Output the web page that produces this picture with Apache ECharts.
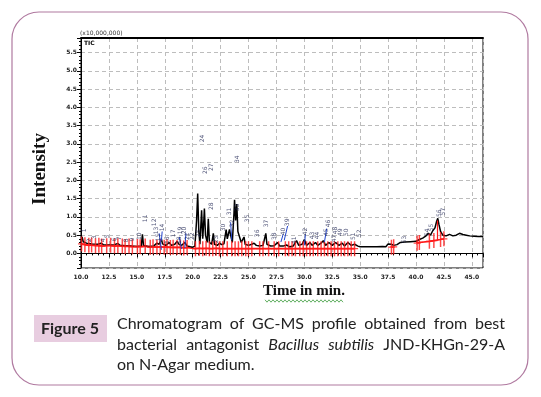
<!DOCTYPE html>
<html><head><meta charset="utf-8">
<script src="https://cdn.jsdelivr.net/npm/echarts@6/dist/echarts.min.js"></script>
<style>html,body{margin:0;padding:0;background:#fff}#c{width:541px;height:397px}</style>
</head><body><div id="c"></div>
<script>
// ---- TIC trace (time in min, intensity x10,000,000) ----
const ticTime = [10.0,10.1,10.2,10.5,11.0,11.5,11.8,12.0,12.5,13.0,13.3,13.5,14.0,14.5,15.0,15.4,15.5,15.6,16.0,16.5,16.8,17.0,17.2,17.3,17.6,17.9,18.1,18.4,18.6,18.8,19.0,19.3,19.5,19.8,20.0,20.2,20.35,20.45,20.55,20.65,20.8,20.9,21.0,21.05,21.15,21.3,21.4,21.5,21.7,21.85,21.95,22.2,22.4,22.6,22.8,23.0,23.1,23.3,23.4,23.55,23.7,23.75,23.85,23.95,24.05,24.2,24.35,24.6,24.7,25.0,25.3,25.5,25.7,26.0,26.3,26.55,26.65,27.0,27.3,27.6,27.8,28.1,28.4,28.7,29.0,29.3,29.5,29.8,30.0,30.2,30.5,30.7,31.0,31.2,31.5,31.7,31.9,32.2,32.5,32.8,33.1,33.4,33.6,33.9,34.2,34.5,34.8,35.0,35.5,36.0,36.5,37.0,37.3,37.5,37.8,38.0,38.3,38.6,39.0,39.5,40.0,40.3,40.6,40.9,41.1,41.3,41.5,41.7,41.85,41.95,42.05,42.2,42.4,42.7,43.0,43.3,43.6,43.9,44.2,44.5,44.8,45.2,45.6,46.0];
const ticValue = [0.30,0.45,0.32,0.28,0.26,0.25,0.28,0.24,0.23,0.24,0.27,0.22,0.21,0.20,0.19,0.20,0.52,0.22,0.19,0.20,0.28,0.25,0.40,0.26,0.22,0.30,0.22,0.25,0.33,0.24,0.22,0.30,0.20,0.18,0.17,0.20,0.90,1.64,0.60,0.25,1.18,0.40,0.90,1.23,0.50,0.30,0.95,0.30,0.25,0.55,0.25,0.22,0.28,0.24,0.26,0.65,0.40,0.66,0.50,0.30,1.10,1.47,0.90,1.35,0.60,0.45,0.30,0.45,0.25,0.22,0.25,0.28,0.22,0.20,0.22,0.55,0.25,0.20,0.21,0.30,0.20,0.20,0.23,0.18,0.20,0.35,0.22,0.25,0.38,0.22,0.30,0.22,0.30,0.22,0.28,0.35,0.22,0.30,0.22,0.30,0.22,0.28,0.20,0.30,0.22,0.25,0.20,0.18,0.18,0.18,0.18,0.19,0.18,0.26,0.25,0.22,0.24,0.30,0.31,0.32,0.33,0.38,0.42,0.48,0.55,0.50,0.62,0.70,0.88,0.96,0.80,0.60,0.50,0.48,0.52,0.48,0.50,0.55,0.52,0.50,0.48,0.47,0.46,0.46];

// ---- integration marks (red) ----
const cutTime = [10.05,10.35,10.7,10.95,11.3,11.6,11.85,12.3,12.65,13.0,13.3,13.7,13.95,14.3,14.6,15.05,15.3,15.75,16.2,16.45,16.8,17.1,17.45,17.7,18.0,18.25,18.6,18.9,19.2,19.5,20.25,20.6,20.9,21.2,21.5,21.8,22.1,22.4,22.7,23.1,23.5,23.8,24.1,24.4,24.75,25.0,25.3,26.0,26.3,26.8,27.3,27.7,28.3,28.6,28.9,29.2,29.6,29.9,30.2,30.5,30.8,31.2,31.5,31.8,32.1,32.4,32.7,33.0,33.3,33.6,33.9,34.2,34.5,37.8,38.0,40.1,40.3,41.2,41.6,42.2,42.5];
const cutValue = [0.26,0.24,0.22,0.23,0.21,0.22,0.20,0.21,0.22,0.20,0.21,0.20,0.19,0.20,0.18,0.19,0.18,0.20,0.17,0.18,0.17,0.18,0.17,0.18,0.16,0.17,0.16,0.17,0.15,0.16,0.13,0.14,0.13,0.14,0.13,0.13,0.14,0.13,0.13,0.13,0.13,0.13,0.13,0.13,0.13,0.13,0.13,0.13,0.13,0.13,0.13,0.13,0.13,0.13,0.13,0.13,0.13,0.13,0.13,0.13,0.13,0.13,0.13,0.13,0.13,0.13,0.13,0.13,0.13,0.13,0.13,0.13,0.13,0.17,0.18,0.28,0.30,0.33,0.35,0.38,0.40];
const cutBreakAfter = [34.5, 38.0];
// red drop line under the last main peak
const dropTime = [41.9];
const dropTop = [0.90];
const dropBottom = [0.35];

// ---- peak numbers ----
const peakNo =    ['1','2','3','4','5','6','7','8','9','10','11','12','13','14','15','16','17','18','19','20','21','22','23','24','25','26','27','28','30','31','32','33','34','35','36','37','38','39','40','41','42','43','44','45','46','47','48','49','50','51','52','53','54','55','56','57'];
const peakNoTime =[10.27,10.8,11.17,12.0,12.33,12.96,13.41,14.1,14.58,15.2,15.75,16.55,16.73,17.27,16.9,17.72,18.26,18.8,18.89,19.25,19.52,19.96,22.12,20.86,20.5,21.13,21.67,21.67,22.8,23.29,23.6,24.0,24.0,24.9,25.8,26.6,27.3,28.5,28.1,29.1,30.1,30.7,31.2,32.0,32.2,32.7,32.8,33.2,33.8,34.4,34.96,39.0,41.06,41.4,42.14,42.5];
const peakNoValue=[0.63,0.36,0.44,0.36,0.47,0.38,0.41,0.36,0.38,0.47,0.96,0.85,0.63,0.71,0.44,0.36,0.55,0.36,0.63,0.63,0.47,0.47,0.38,3.15,0.55,2.28,2.36,1.29,0.71,1.15,0.82,1.26,2.58,0.96,0.55,0.82,0.47,0.85,0.60,0.36,0.60,0.49,0.49,0.58,0.82,0.41,0.63,0.58,0.58,0.47,0.55,0.38,0.58,0.71,1.10,1.15];

// ---- leader lines (blue) ----
const leadFromT = [17.0,17.27,18.8,19.4,23.4,28.5,28.1,32.0,30.1];
const leadFromV = [0.55,0.60,0.45,0.55,0.85,0.75,0.52,0.68,0.52];
const leadToT =   [17.2,17.2,19.0,19.3,23.5,28.2,27.9,31.8,30.0];
const leadToV =   [0.10,0.35,0.12,0.15,0.36,0.36,0.31,0.31,0.22];

const xTicks = {min:10, max:46, interval:2.5};
const yRange = {min:-0.4, max:5.9};

const chart = echarts.init(document.getElementById('c'));

const ticData = ticTime.map((t,i)=>[t,ticValue[i]]);
const cutLine = [];
cutTime.forEach((t,i)=>{ cutLine.push([t,cutValue[i]]); if(cutBreakAfter.includes(t)) cutLine.push([t+0.01,'-']); });
const cutData = cutTime.map((t,i)=>[t,cutValue[i]]);
const labData = peakNo.map((n,i)=>({value:[peakNoTime[i],peakNoValue[i]], name:n}));
const leadData = leadFromT.map((t,i)=>({coords:[[t,leadFromV[i]],[leadToT[i],leadToV[i]]]}));
const dropData = dropTime.map((t,i)=>({coords:[[t,dropTop[i]],[t,dropBottom[i]]]}));

// caption justify helper
const mctx = document.createElement('canvas').getContext('2d');
const capFont = 'Lato';
const capSize = 16;
function justified(words, y, x0, x1) {
  const widths = words.map(w => { mctx.font = (w.i?'italic ':'') + capSize + 'px ' + capFont; return mctx.measureText(w.t).width; });
  const total = widths.reduce((a,b)=>a+b,0);
  const gap = (x1 - x0 - total) / (words.length - 1);
  let x = x0; const out = [];
  words.forEach((w,k)=>{
    out.push({type:'text', x:x, y:y, style:{text:w.t, font:(w.i?'italic ':'')+capSize+'px '+capFont, fill:'#222', textVerticalAlign:'middle'}});
    x += widths[k] + gap;
  });
  return out;
}
const line1 = 'Chromatogram of GC-MS profile obtained from best'.split(' ').map(t=>({t}));
const line2 = [{t:'bacterial'},{t:'antagonist'},{t:'Bacillus',i:true},{t:'subtilis',i:true},{t:'JND-KHGn-29-A'}];

// wavy underline
const wave = [];
for (let x = 265, k = 0; x <= 343; x += 2, k++) wave.push([x, 301 + (k % 2 ? 1.2 : -1.2)]);

const option = {
  animation:false,
  backgroundColor:'#fff',
  grid:{left:81, right:58, top:38, bottom:129, show:true, borderColor:'#000', borderWidth:1},
  xAxis:[{
    type:'value', min:xTicks.min, max:xTicks.max, interval:xTicks.interval,
    axisLine:{show:true, lineStyle:{color:'#000', width:1}},
    axisTick:{show:true, length:4, lineStyle:{color:'#000'}},
    minorTick:{show:true, splitNumber:5, length:2, lineStyle:{color:'#000'}},
    axisLabel:{fontSize:6, color:'#222', fontFamily:'DejaVu Sans', fontWeight:'bold', margin:6, showMaxLabel:false, formatter:v=>v.toFixed(1)},
    splitLine:{show:true, lineStyle:{color:'#bdbdbd', type:[4,3], width:1}}
  },{
    type:'value', position:'top', min:xTicks.min, max:xTicks.max, interval:xTicks.interval,
    axisLine:{show:true, lineStyle:{color:'#000', width:2}}, axisTick:{show:false}, axisLabel:{show:false}, splitLine:{show:false}
  }],
  yAxis:{
    type:'value', min:yRange.min, max:yRange.max, splitNumber:12,
    axisLine:{show:true, lineStyle:{color:'#000', width:1}},
    axisTick:{show:true, length:4, lineStyle:{color:'#000'}},
    minorTick:{show:true, splitNumber:5, length:2, lineStyle:{color:'#000'}},
    axisLabel:{fontSize:6, color:'#222', fontFamily:'DejaVu Sans', fontWeight:'bold', margin:4, showMinLabel:false, showMaxLabel:false, formatter:v=>v.toFixed(1)},
    splitLine:{show:true, lineStyle:{color:'#bdbdbd', type:[4,3], width:1}}
  },
  series:[
    {type:'line', data:cutLine, symbol:'none', lineStyle:{color:'#ff1a1a', width:1.6}, z:3, connectNulls:false},
    {type:'line', data:ticData, symbol:'none', lineStyle:{color:'#000', width:1.5}, z:4},
    {type:'scatter', data:cutData, symbol:'path://M3,0h1.6v20h-1.6z M0,9.2h7.6v1.6h-7.6z', symbolSize:[7,15], itemStyle:{color:'#ff1a1a'}, z:5},
    {type:'lines', coordinateSystem:'cartesian2d', data:dropData, lineStyle:{color:'#ff1a1a', width:1.2, opacity:1}, z:5},
    {type:'lines', coordinateSystem:'cartesian2d', data:leadData, lineStyle:{color:'#2244cc', width:1, opacity:1}, z:6},
    {type:'scatter', data:labData, symbolSize:0, z:7,
      label:{show:true, position:'inside', rotate:90, fontSize:6, fontFamily:'DejaVu Sans', color:'#1c2250', formatter:p=>p.name}}
  ],
  graphic:[
    {type:'rect', shape:{x:12, y:12, width:516, height:373, r:27}, style:{fill:'none', stroke:'#b07aa0', lineWidth:1.2}},
    {type:'text', x:80, y:33, style:{text:'(x10,000,000)', font:'6px DejaVu Sans', fill:'#333', textVerticalAlign:'middle'}},
    {type:'text', x:84, y:43, style:{text:'TIC', font:'bold 6px DejaVu Sans', fill:'#000', textVerticalAlign:'middle'}},
    {type:'text', x:40, y:169, rotation:Math.PI/2, style:{text:'Intensity', font:'bold 19px "Liberation Serif"', fill:'#111', textAlign:'center', textVerticalAlign:'middle'}},
    {type:'text', x:304, y:291, style:{text:'Time in min.', font:'bold 15px "Liberation Serif"', fill:'#111', textAlign:'center', textVerticalAlign:'middle'}},
    {type:'polyline', shape:{points:wave}, style:{stroke:'#3a9a3a', lineWidth:0.8, fill:'none'}},
    {type:'rect', shape:{x:34, y:315, width:73, height:27}, style:{fill:'#e8cde0'}},
    {type:'text', x:70, y:329, style:{text:'Figure 5', font:'bold 16px Lato', fill:'#222', textAlign:'center', textVerticalAlign:'middle'}},
    ...justified(line1, 324, 117, 505),
    ...justified(line2, 345, 117, 505),
    {type:'text', x:117, y:365, style:{text:'on N-Agar medium.', font:capSize+'px '+capFont, fill:'#222', textVerticalAlign:'middle'}}
  ]
};
chart.setOption(option);
</script></body></html>
